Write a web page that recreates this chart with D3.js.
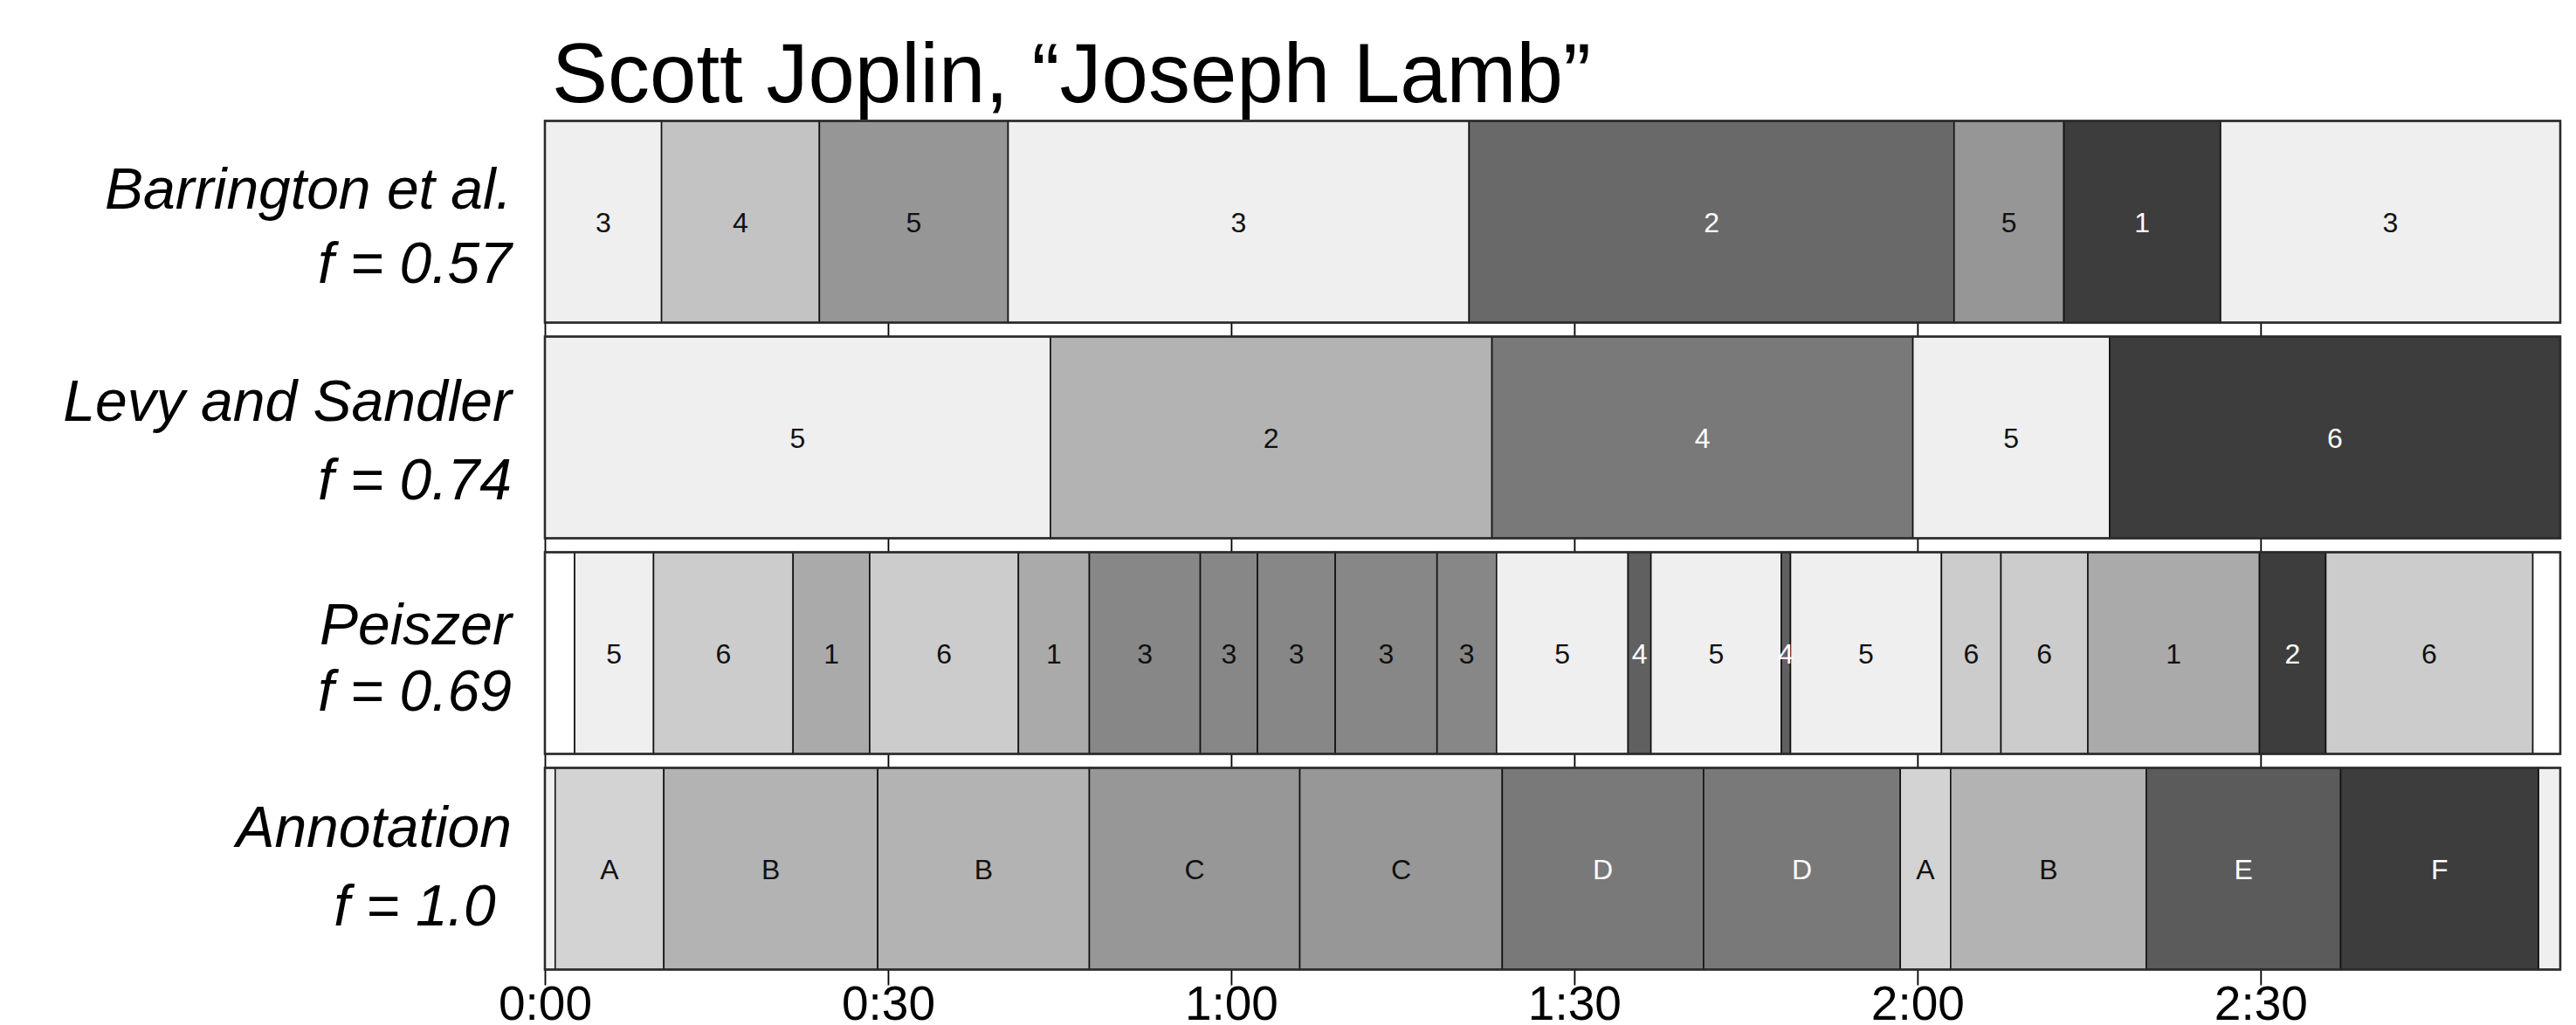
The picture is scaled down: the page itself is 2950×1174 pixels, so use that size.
<!DOCTYPE html>
<html>
<head>
<meta charset="utf-8">
<script src="https://cdn.jsdelivr.net/npm/d3@7"></script>
<style>
    body { margin: 0; background: #fff; }
    text { font-family: "Liberation Sans", Arial, Helvetica, sans-serif; }
</style>
</head>
<body>
<script>
// segment boundaries are in seconds, labels are the segment ids
var barringtonBounds = [0, 10.2, 24.0, 40.5, 80.8, 123.2, 132.8, 146.5, 176.2];
var barringtonLabels = ["3", "4", "5", "3", "2", "5", "1", "3"];

var levyBounds = [0, 44.2, 82.8, 119.6, 136.8, 176.2];
var levyLabels = ["5", "2", "4", "5", "6"];

var peiszerBounds = [0, 2.6, 9.5, 21.7, 28.4, 41.4, 47.6, 57.3, 62.3, 69.1, 78.0, 83.2,
    94.7, 96.7, 108.1, 108.9, 122.1, 127.3, 134.9, 149.9, 155.7, 173.8, 176.2];
var peiszerLabels = ["", "5", "6", "1", "6", "1", "3", "3", "3", "3", "3",
    "5", "4", "5", "4", "5", "6", "6", "1", "2", "6", ""];

var annotationBounds = [0, 0.9, 10.4, 29.1, 47.6, 66.0, 83.7, 101.3, 118.5, 122.9, 140.0, 157.0, 174.3, 176.2];
var annotationLabels = ["", "A", "B", "B", "C", "C", "D", "D", "A", "B", "E", "F", ""];

var rowNames = ["Barrington et al.", "Levy and Sandler", "Peiszer", "Annotation"];
var rowScores = ["f = 0.57", "f = 0.74", "f = 0.69", "f = 1.0 "];

var tickValues = [0, 30, 60, 90, 120, 150];
var tickLabels = ["0:00", "0:30", "1:00", "1:30", "2:00", "2:30"];

var title = "Scott Joplin, \u201cJoseph Lamb\u201d";

function main() {
    var w = 2950;
    var h = 1174;
    var left = 624;
    var right = 2932;
    var rowTop = 138.5;
    var rowH = 231;
    var rowStep = 247;
    // baseline offsets of the two label lines from the row middle
    var nameOffset = [-15.5, -19.5, -10.5, -25];
    var scoreOffset = [69.5, 70.5, 66, 65];

    // grey level for each label, one map per row (like the original colormap)
    var greys = [
        { "1": "#3d3d3d", "2": "#696969", "3": "#efefef", "4": "#c3c3c3", "5": "#969696" },
        { "2": "#b3b3b3", "4": "#797979", "5": "#efefef", "6": "#3d3d3d" },
        { "": "#ffffff", "1": "#aaaaaa", "2": "#3d3d3d", "3": "#878787", "4": "#606060", "5": "#efefef", "6": "#cccccc" },
        { "": "#efefef", "A": "#d3d3d3", "B": "#b3b3b3", "C": "#979797", "D": "#797979", "E": "#5b5b5b", "F": "#3d3d3d" }
    ];

    var rows = [
        toSegments(barringtonBounds, barringtonLabels),
        toSegments(levyBounds, levyLabels),
        toSegments(peiszerBounds, peiszerLabels),
        toSegments(annotationBounds, annotationLabels)
    ];

    var svg = d3.select("body").append("svg")
        .attr("width", w)
        .attr("height", h);

    var x = d3.scaleLinear()
        .domain([0, 176.2])
        .range([left, right]);

    svg.append("text")
        .attr("x", 632)
        .attr("y", 117)
        .attr("font-size", 96)
        .attr("fill", "#000")
        .text(title);

    rows.forEach(function (segs, i) {
        var top = rowTop + i * rowStep;
        var g = svg.append("g").attr("transform", "translate(0," + top + ")");

        // ticks under each row, labels only under the last one
        var axis = d3.axisBottom(x)
            .tickValues(tickValues)
            .tickSize(18)
            .tickPadding(0)
            .tickFormat(function (d, k) {
                return i === rows.length - 1 ? tickLabels[k] : "";
            });
        var ax = g.append("g")
            .attr("transform", "translate(0," + rowH + ")")
            .call(axis);
        ax.select(".domain").remove();
        ax.selectAll(".tick line").attr("stroke", "#000").attr("stroke-width", 1.8);
        ax.selectAll(".tick text")
            .attr("font-size", 55)
            .attr("font-family", "Liberation Sans, Arial, sans-serif")
            .attr("fill", "#000");

        g.selectAll("rect.seg")
            .data(segs)
            .enter()
            .append("rect")
            .classed("seg", true)
            .attr("x", function (d) { return x(d.start); })
            .attr("y", 0)
            .attr("width", function (d) { return x(d.end) - x(d.start); })
            .attr("height", rowH)
            .attr("fill", function (d) { return greys[i][d.label]; })
            .attr("stroke", "#111")
            .attr("stroke-width", 1.6);

        g.selectAll("text.seg")
            .data(segs.filter(function (d) { return d.label !== ""; }))
            .enter()
            .append("text")
            .classed("seg", true)
            .attr("x", function (d) { return x((d.start + d.end) / 2); })
            .attr("y", rowH / 2)
            .attr("dy", "0.36em")
            .attr("text-anchor", "middle")
            .attr("font-size", 32)
            .attr("fill", function (d) {
                return d3.hsl(greys[i][d.label]).l < 0.5 ? "#fff" : "#111";
            })
            .text(function (d) { return d.label; });

        // frame
        g.append("rect")
            .attr("x", left)
            .attr("y", 0)
            .attr("width", right - left)
            .attr("height", rowH)
            .attr("fill", "none")
            .attr("stroke", "#2b2b2b")
            .attr("stroke-width", 2.6);

        // row name and score
        var lbl = g.append("text")
            .attr("text-anchor", "end")
            .attr("font-size", 66)
            .attr("font-style", "italic")
            .attr("fill", "#000")
            .style("white-space", "pre");
        lbl.append("tspan")
            .attr("x", 586)
            .attr("y", rowH / 2 + nameOffset[i])
            .text(rowNames[i]);
        lbl.append("tspan")
            .attr("x", 586)
            .attr("y", rowH / 2 + scoreOffset[i])
            .text(rowScores[i]);
    });
}

function toSegments(bounds, labels) {
    var segs = [];
    for (var i = 0; i < labels.length; i++) {
        segs.push({ start: bounds[i], end: bounds[i + 1], label: labels[i] });
    }
    return segs;
}

main();
</script>
</body>
</html>
